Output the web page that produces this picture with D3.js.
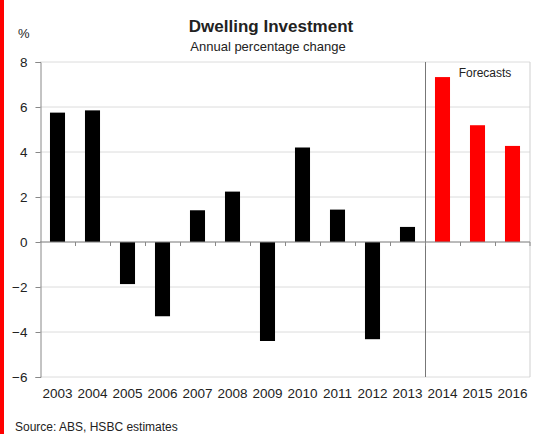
<!DOCTYPE html>
<html><head><meta charset="utf-8">
<script src="https://cdn.jsdelivr.net/npm/d3@7"></script>
<style>body{margin:0;background:#fff}svg{display:block}text{font-family:"Liberation Sans",Arial,sans-serif;fill:#222}</style>
</head><body><svg id="c" width="536" height="434"></svg>
<script>
const years = ["2003","2004","2005","2006","2007","2008","2009","2010","2011","2012","2013","2014","2015","2016"];
const values = [5.75,5.85,-1.87,-3.3,1.41,2.24,-4.4,4.2,1.44,-4.32,0.67,7.33,5.19,4.27];
const forecastYears = ["2014","2015","2016"];
const yTicks = [-6,-4,-2,0,2,4,6,8];

const svg = d3.select("#c");
const L=40,R=530,T=62,B=377;
const x = d3.scaleBand().domain(years).range([L,R]).paddingInner(0.57).paddingOuter(0.285);
const xb = d3.scaleBand().domain(years).range([L,R]);
const y = d3.scaleLinear().domain([-6,8]).range([B,T]);

svg.append("rect").attr("x",0).attr("y",0).attr("width",4).attr("height",434).attr("fill","#ff0000");

svg.append("g").selectAll("line").data(yTicks).join("line")
  .attr("x1",L).attr("x2",R).attr("y1",d=>y(d)).attr("y2",d=>y(d))
  .attr("stroke","#dcdcdc").attr("stroke-width",1);
svg.append("line").attr("x1",R).attr("x2",R).attr("y1",T).attr("y2",B).attr("stroke","#cfcfcf");

svg.append("line").attr("x1",xb("2014")+0.5).attr("x2",xb("2014")+0.5).attr("y1",T).attr("y2",B)
  .attr("stroke","#777").attr("stroke-width",1);

svg.append("g").selectAll("rect").data(years).join("rect")
  .attr("x",d=>x(d)).attr("width",x.bandwidth())
  .attr("y",(d,i)=>y(Math.max(0,values[i])))
  .attr("height",(d,i)=>Math.abs(y(values[i])-y(0)))
  .attr("fill",d=>forecastYears.includes(d)?"#ff0000":"#000");

const zero = svg.append("g").attr("transform",`translate(0,${y(0)})`);
zero.append("line").attr("x1",L).attr("x2",R).attr("stroke","#888");
zero.selectAll(".tk").data(years.slice(1).concat(["end"])).join("line")
  .attr("x1",d=>d==="end"?R:xb(d)+0.5).attr("x2",d=>d==="end"?R:xb(d)+0.5)
  .attr("y1",0).attr("y2",4).attr("stroke","#888");

const ya = svg.append("g").attr("transform",`translate(${L+0.5},0)`)
  .call(d3.axisLeft(y).tickValues(yTicks).tickSize(5).tickPadding(8).tickFormat(d3.format("d")));
ya.select(".domain").attr("stroke","#888");
ya.selectAll(".tick line").attr("stroke","#888");
ya.selectAll("text").style("font-size","13.5px").attr("fill","#222").style("font-family","'Liberation Sans',Arial,sans-serif");

svg.append("g").selectAll("text").data(years).join("text")
  .attr("x",d=>xb(d)+xb.bandwidth()/2).attr("y",398).attr("text-anchor","middle")
  .style("font-size","13.5px").text(d=>d);

svg.append("text").attr("x",271).attr("y",32).attr("text-anchor","middle")
  .style("font-size","17px").style("font-weight","bold").text("Dwelling Investment");
svg.append("text").attr("x",268).attr("y",51).attr("text-anchor","middle")
  .style("font-size","13px").text("Annual percentage change");
svg.append("text").attr("x",18).attr("y",38).style("font-size","13px").text("%");
svg.append("text").attr("x",485).attr("y",77).attr("text-anchor","middle")
  .style("font-size","12px").text("Forecasts");
svg.append("text").attr("x",15).attr("y",431).style("font-size","12px").text("Source: ABS, HSBC estimates");
</script></body></html>
